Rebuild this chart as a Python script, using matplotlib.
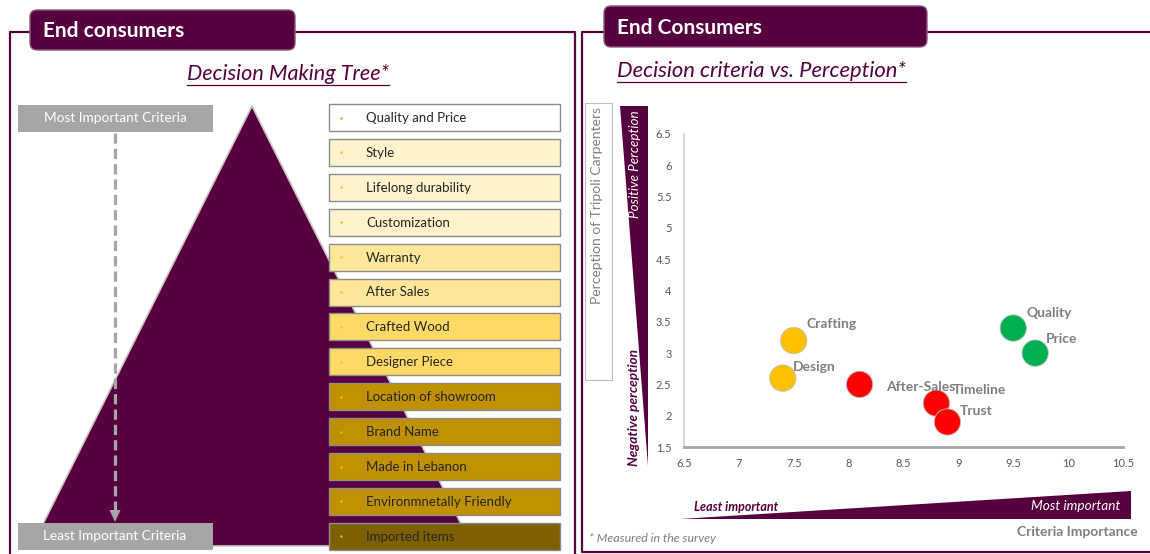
"""
End consumers: decision making tree + decision criteria vs perception
"""
import matplotlib
matplotlib.use('Agg')

import matplotlib.pyplot as plt
from matplotlib.patches import Polygon, Rectangle, FancyBboxPatch
from matplotlib.ticker import FuncFormatter

plt.rcParams['font.family'] = ['Lato', 'DejaVu Sans']

# ---- data -------------------------------------------------------------
tree_items = [
    "Quality and Price", "Style", "Lifelong durability", "Customization",
    "Warranty", "After Sales", "Crafted Wood", "Designer Piece",
    "Location of showroom", "Brand Name", "Made in Lebanon",
    "Environmnetally Friendly", "Imported items",
]

criteria = ["Crafting", "Design", "After-Sales", "Timeline", "Trust", "Quality", "Price"]
importance = [7.5, 7.4, 8.1, 8.8, 8.9, 9.5, 9.7]
perception = [3.2, 2.6, 2.5, 2.2, 1.9, 3.4, 3.0]

x_ticks = [6.5, 7, 7.5, 8, 8.5, 9, 9.5, 10, 10.5]
y_ticks = [1.5, 2, 2.5, 3, 3.5, 4, 4.5, 5, 5.5, 6, 6.5]

# ---- styles -----------------------------------------------------------
COLORS = {
    "purple": "#570040",
    "grey_box": "#A6A6A6",
    "label": "#7F7F7F",
    "tick": "#595959",
    "box_text": "#262626",
    "box_edge": "#8C8C8C",
}
tier_colors = ["#FFFFFF", "#FFF2CC", "#FFF2CC", "#FFF2CC", "#FFE699", "#FFE699",
               "#FFD966", "#FFD966", "#BF9000", "#BF9000", "#BF9000", "#BF9000",
               "#7F6000"]
point_colors = ["#FFC000", "#FFC000", "#FF0000", "#FF0000", "#FF0000", "#00B050", "#00B050"]
label_offsets = [(9.4, 12), (7.3, 8), (19, -2), (12, 9.4), (9, 8), (9.4, 10.5), (8, 9.8)]

W, H = 1150, 554
fig = plt.figure(figsize=(W / 100, H / 100), dpi=100, facecolor="white")
bg = fig.add_axes([0, 0, 1, 1])
bg.set_xlim(0, W)
bg.set_ylim(H, 0)
bg.axis("off")

P = COLORS["purple"]


def tab(x0, y0, w, h, text):
    bg.add_patch(FancyBboxPatch((x0, y0), w, h,
                                boxstyle="round,pad=0,rounding_size=7",
                                facecolor=P, edgecolor="#8A5A7A", lw=1, zorder=5))
    bg.text(x0 + 13, y0 + h / 2 + 1, text, color="white", fontsize=15,
            fontweight="bold", ha="left", va="center", zorder=6)


def underlined(x, y, text, ha, size):
    t = bg.text(x, y, text, color=P, fontsize=size, style="italic",
                ha=ha, va="center", zorder=6)
    fig.canvas.draw()
    bb = t.get_window_extent().transformed(bg.transData.inverted())
    x0, x1 = sorted([bb.x0, bb.x1])
    bg.plot([x0, x1], [y + 11, y + 11], color=P, lw=0.9, zorder=6)


# ---- left panel -------------------------------------------------------
bg.plot([10, 10, 575, 575], [554, 32, 32, 554], color=P, lw=1.6, zorder=1)
tab(30, 10, 265, 40, "End consumers")
underlined(288, 74, "Decision Making Tree*", "center", 15.6)

# pyramid
bg.add_patch(Polygon([(252, 106), (472, 546), (32, 546)], closed=True,
                     facecolor=P, edgecolor="#C8C8C8", lw=1.2, zorder=2))

# importance boxes + arrow
for y0, txt in [(105, "Most Important Criteria"), (523, "Least Important Criteria")]:
    bg.add_patch(Rectangle((18, y0), 195, 27, facecolor=COLORS["grey_box"],
                           edgecolor="none", zorder=4))
    bg.text(115, y0 + 13.5, txt, color="white", fontsize=9.8,
            ha="center", va="center", zorder=5)
bg.plot([115, 115], [133, 511], color=COLORS["grey_box"], lw=2.3,
        ls=(0, (3.2, 1.6)), zorder=3)
bg.add_patch(Polygon([(109.5, 510), (120.5, 510), (115, 522)], closed=True,
                     facecolor=COLORS["grey_box"], edgecolor="none", zorder=3))

# criteria boxes
for i, (txt, fc) in enumerate(zip(tree_items, tier_colors)):
    top = 104 + i * 34.9
    bg.add_patch(Rectangle((329, top), 231, 27, facecolor=fc,
                           edgecolor=COLORS["box_edge"], lw=1, zorder=4))
    bg.scatter([341], [top + 13.5], s=3, color="#D9A520" if i == 0 else "#FFC000",
               linewidths=0, zorder=5)
    bg.text(366, top + 14, txt, color=COLORS["box_text"], fontsize=9.5,
            ha="left", va="center", zorder=5)

# ---- right panel ------------------------------------------------------
bg.plot([1150, 582, 582, 1150], [32, 32, 552, 552], color=P, lw=1.6, zorder=1)
tab(604, 6, 323, 41, "End Consumers")
underlined(617, 71, "Decision criteria vs. Perception*", "left", 15.8)

# y-axis label box
bg.add_patch(Rectangle((585, 103), 27, 277, facecolor="white",
                       edgecolor="#BFBFBF", lw=0.8, zorder=2))
bg.text(597, 107, "Perception of Tripoli Carpenters", color=COLORS["label"],
        fontsize=10, rotation=90, ha="center", va="top", zorder=3)

# vertical wedge
bg.add_patch(Polygon([(620, 106), (648, 106), (648, 466)], closed=True,
                     facecolor=P, edgecolor="none", zorder=2))
bg.text(635, 110, "Positive Perception", color="white", fontsize=9.7,
        style="italic", rotation=90, ha="center", va="top", zorder=3)
bg.text(634, 466, "Negative perception", color=P, fontsize=9.8,
        style="italic", fontweight="bold", rotation=90, ha="center",
        va="bottom", zorder=3)

# horizontal wedge
bg.add_patch(Polygon([(680, 519), (1131, 491), (1131, 519)], closed=True,
                     facecolor=P, edgecolor="none", zorder=2))
bg.text(694, 507, "Least important", color=P, fontsize=9, style="italic",
        fontweight="bold", ha="left", va="center", zorder=3)
bg.text(1120, 506, "Most important", color="white", fontsize=9.8,
        style="italic", ha="right", va="center", zorder=3)
bg.text(1138, 532, "Criteria Importance", color=COLORS["label"], fontsize=10,
        fontweight="bold", ha="right", va="center", zorder=3)
bg.text(589, 538, "* Measured in the survey", color=COLORS["label"],
        fontsize=8.9, style="italic", ha="left", va="center", zorder=3)

# scatter
ax = fig.add_axes([684 / W, (H - 447) / H, (1123 - 684) / W, (447 - 134) / H])
ax.set_facecolor("none")
ax.scatter(importance, perception, s=360, c=point_colors, edgecolors="#BFBFBF",
           linewidths=0.6, zorder=3, clip_on=False)
for name, x, y, off in zip(criteria, importance, perception, label_offsets):
    ax.annotate(name, (x, y), xytext=off, textcoords="offset points",
                color=COLORS["label"], fontsize=10, fontweight="bold",
                ha="left", va="center", zorder=4)
ax.set_xlim(6.5, 10.5)
ax.set_ylim(1.5, 6.5)
ax.set_xticks(x_ticks)
ax.set_yticks(y_ticks)
fmt = FuncFormatter(lambda v, _: f"{v:g}")
ax.xaxis.set_major_formatter(fmt)
ax.yaxis.set_major_formatter(fmt)
ax.tick_params(length=0, labelsize=8, labelcolor=COLORS["tick"])
ax.tick_params(axis="x", pad=8)
ax.tick_params(axis="y", pad=9)
for side in ("top", "right"):
    ax.spines[side].set_visible(False)
ax.spines["left"].set_color("#D0D0D0")
ax.spines["left"].set_linewidth(1.2)
ax.spines["bottom"].set_color("#A6A6A6")
ax.spines["bottom"].set_linewidth(2)

fig.savefig("out.png", dpi=100, facecolor="white")
plt.close(fig)
